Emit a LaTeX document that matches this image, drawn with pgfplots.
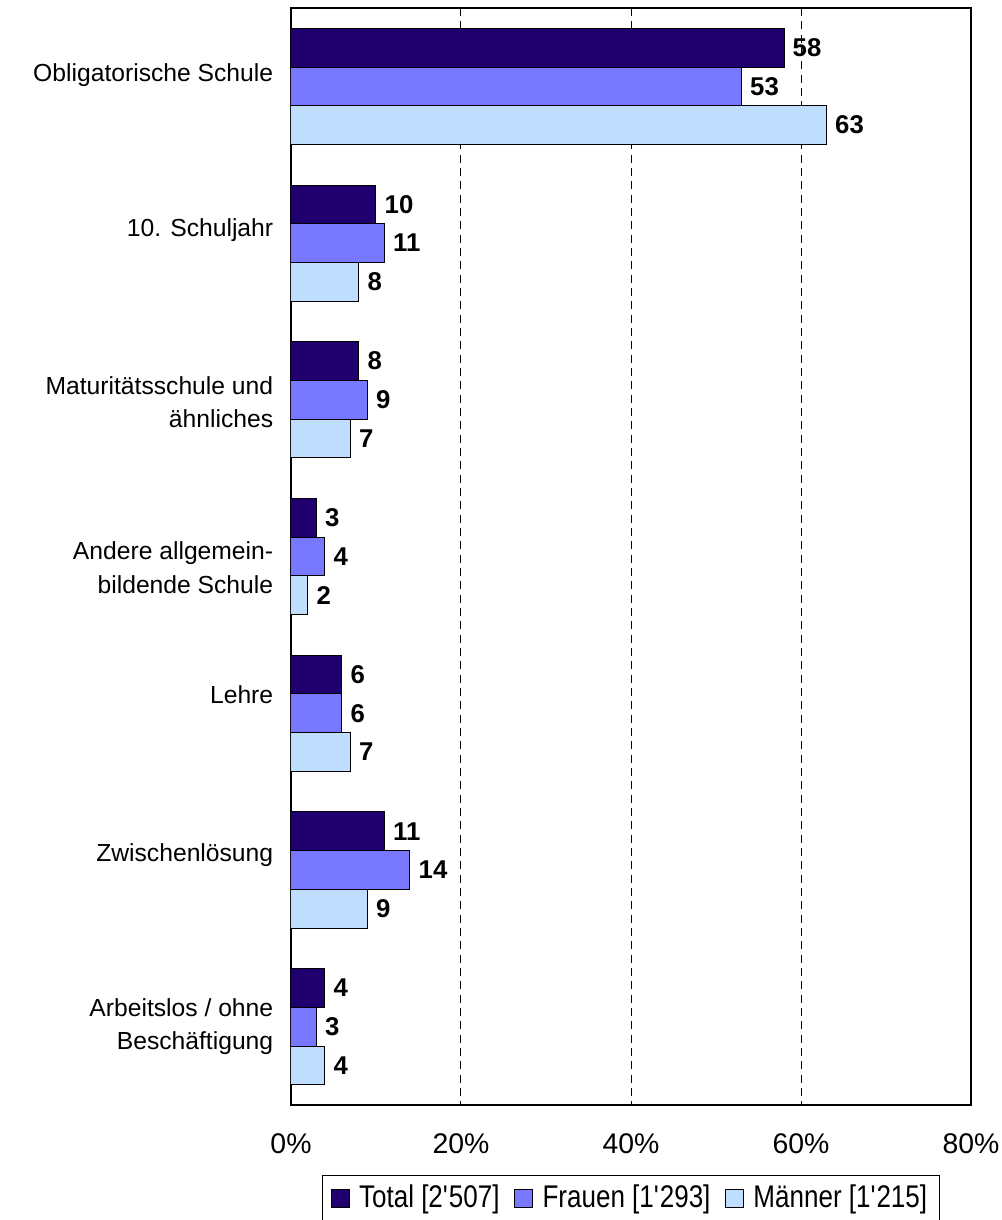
\documentclass[border=0pt]{standalone}
\usepackage{pgfplots}
\pgfplotsset{compat=1.18}
\usepackage{fontspec}
\setmainfont{Liberation Sans}
\newfontfamily\legfont[FakeStretch=0.83]{Liberation Sans}
\definecolor{ctotal}{HTML}{1F006E}
\definecolor{cfrau}{HTML}{7777FF}
\definecolor{cmann}{HTML}{BFDDFF}
\pgfplotsset{
  sqlegend/.style={legend image code/.code={\draw[##1,draw=black,line width=0.75pt] (0pt,-7pt) rectangle (13.5pt,6.5pt);}}
}
\newcommand{\oneline}[2]{\raisebox{#1}[\height][\depth]{#2}}
\newcommand{\twoline}[2]{\raisebox{#1}[\height][\depth]{\begin{tabular}{@{}r@{}}#2\end{tabular}}}
\begin{document}
\fontsize{18.5}{25}\selectfont
\begin{tikzpicture}
\begin{axis}[
  name=ax,
  scale only axis, width=510pt, height=822.75pt,
  xbar, bar width=0.247,
  xmin=0, xmax=80, ymin=-0.5, ymax=6.5, y dir=reverse,
  xtick={0,20,40,60,80},
  xticklabel={\pgfmathprintnumber{\tick}\%},
  /pgf/number format/assume math mode=true,
  xticklabel style={yshift=-15pt, font=\fontsize{21.3}{24}\selectfont},
  ytick={0,1,2,3,4,5,6},
  yticklabels={{\oneline{8.25pt}{Obligatorische Schule}},{\oneline{9.75pt}{10. Schuljahr}},{\twoline{-3.3pt}{Maturitätsschule und\\ähnliches}},{\twoline{-10pt}{Andere allgemein-\\bildende Schule}},{\oneline{14pt}{Lehre}},{\oneline{11pt}{Zwischenlösung}},{\twoline{0pt}{Arbeitslos / ohne\\Beschäftigung}}},
  yticklabel style={xshift=-7pt, font=\fontsize{18.5}{25}\selectfont},
  major tick length=0pt,
  xmajorgrids, major grid style={dashed, black, line width=0.75pt, dash pattern=on 6pt off 4pt},
  axis line style={black, line width=1pt},
  point meta=x,
  nodes near coords={\pgfmathprintnumber{\pgfplotspointmeta}},
  nodes near coords style={font=\fontsize{19.3}{23}\selectfont\bfseries, black, anchor=west},
  legend columns=3,
  legend style={at={(0.5,-0.0635)}, anchor=north, draw=black, line width=0.75pt,
    font=\legfont\fontsize{23.5}{26}\selectfont, inner xsep=6pt, inner ysep=5pt,
    /tikz/every odd column/.append style={column sep=4pt},
    /tikz/every even column/.append style={column sep=8pt},
    nodes={inner xsep=3pt}},
  legend cell align=left,
]
\addplot[xbar, bar shift=-0.247, fill=ctotal, draw=black, line width=0.75pt, sqlegend] coordinates {
  (58,0) (10,1) (8,2) (3,3) (6,4) (11,5) (4,6)};
\addplot[xbar, bar shift=0, fill=cfrau, draw=black, line width=0.75pt, sqlegend] coordinates {
  (53,0) (11,1) (9,2) (4,3) (6,4) (14,5) (3,6)};
\addplot[xbar, bar shift=0.247, fill=cmann, draw=black, line width=0.75pt, sqlegend] coordinates {
  (63,0) (8,1) (7,2) (2,3) (7,4) (9,5) (4,6)};
\legend{Total [2\textquotesingle 507],Frauen [1\textquotesingle 293],Männer [1\textquotesingle 215]}
\end{axis}
\pgfresetboundingbox
\path ([shift={(-218.25pt,-86.25pt)}]ax.south west) rectangle ([shift={(23.25pt,6pt)}]ax.north east);
\end{tikzpicture}
\end{document}
